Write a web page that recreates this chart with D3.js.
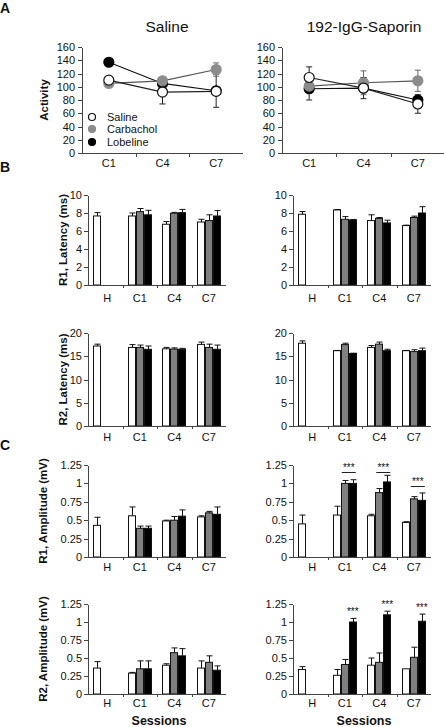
<!DOCTYPE html>
<html><head><meta charset="utf-8">
<script src="https://cdn.jsdelivr.net/npm/d3@7"></script>
<style>
body{margin:0;background:#fff}
svg{display:block}
text{font-family:"Liberation Sans",Arial,sans-serif;fill:#111}
</style>
</head><body>
<svg id="chart" width="444" height="727"></svg>
<script>
// ---------- DATA ----------
const groups = ["Saline", "Carbachol", "Lobeline"];
const sessionsA = ["C1", "C4", "C7"];
const sessionsB = ["H", "C1", "C4", "C7"];
const activityTicks = [0, 20, 40, 60, 80, 100, 120, 140, 160];
const latR1Ticks = [0, 2, 4, 6, 8, 10];
const latR2Ticks = [0, 5, 10, 15, 20];
const ampTicks = [0, 0.25, 0.5, 0.75, 1, 1.25];

// Panel A: activity (rows = Saline, Carbachol, Lobeline; cols = C1, C4, C7)
const actSalMean = [[110, 92, 93], [105, 109, 126], [137, 105, 94]];
const actSalErr  = [[5, 18, 4], [4, 4, 10], [3, 4, 25]];
const actSapMean = [[114, 98, 74], [101, 106, 109], [97, 98, 80]];
const actSapErr  = [[16, 4, 14], [4, 18, 16], [17, 16, 5]];

// Panel B: R1 latency (ms) (cols = H, C1, C4, C7)
const r1LatSalMean = [[7.67, 7.67, 6.75, 7.0], [null, 8.15, 7.97, 7.16], [null, 7.8, 8.04, 7.67]];
const r1LatSalErr  = [[0.37, 0.33, 0.3, 0.3], [null, 0.35, 0.1, 0.64], [null, 0.5, 0.36, 0.6]];
const r1LatSapMean = [[7.86, 8.34, 7.16, 6.6], [null, 7.3, 7.4, 7.5], [null, 7.23, 6.9, 8.0]];
const r1LatSapErr  = [[0.3, 0.05, 0.64, 0.05], [null, 0.3, 0.1, 0.15], [null, 0.05, 0.3, 0.7]];
// R2 latency (ms)
const r2LatSalMean = [[17.2, 16.9, 16.6, 17.55], [null, 16.9, 16.55, 16.9], [null, 16.5, 16.5, 16.5]];
const r2LatSalErr  = [[0.4, 0.6, 0.3, 0.5], [null, 0.5, 0.25, 0.7], [null, 0.7, 0.2, 0.9]];
const r2LatSapMean = [[17.8, 16.2, 16.9, 16.2], [null, 17.5, 17.6, 16.0], [null, 15.6, 16.2, 16.2]];
const r2LatSapErr  = [[0.5, 0.05, 0.4, 0.05], [null, 0.3, 0.45, 0.4], [null, 0.05, 0.3, 0.55]];

// Panel C: R1 amplitude (mV)
const r1AmpSalMean = [[0.43, 0.56, 0.49, 0.545], [null, 0.39, 0.5, 0.6], [null, 0.39, 0.555, 0.58]];
const r1AmpSalErr  = [[0.11, 0.12, 0.01, 0.015], [null, 0.03, 0.05, 0.02], [null, 0.03, 0.085, 0.1]];
const r1AmpSapMean = [[0.45, 0.57, 0.56, 0.47], [null, 1.0, 0.875, 0.79], [null, 1.0, 1.02, 0.77]];
const r1AmpSapErr  = [[0.12, 0.12, 0.02, 0.01], [null, 0.04, 0.055, 0.03], [null, 0.05, 0.09, 0.1]];
// R2 amplitude (mV)
const r2AmpSalMean = [[0.36, 0.29, 0.4, 0.36], [null, 0.35, 0.574, 0.44], [null, 0.35, 0.53, 0.33]];
const r2AmpSalErr  = [[0.09, 0.01, 0.02, 0.1], [null, 0.11, 0.066, 0.09], [null, 0.11, 0.1, 0.06]];
const r2AmpSapMean = [[0.34, 0.26, 0.4, 0.35], [null, 0.41, 0.44, 0.51], [null, 1.0, 1.1, 1.01]];
const r2AmpSapErr  = [[0.04, 0.08, 0.1, 0.0], [null, 0.07, 0.13, 0.14], [null, 0.05, 0.05, 0.1]];

// significance annotations ("***")
const sigR1SapSessions = ["C1", "C4", "C7"];
const sigR1SapLevels = [1.155, 1.155, 0.965];   // bracket level (mV)
const sigR2SapSessions = ["C1", "C4", "C7"];

// ---------- STYLE ----------
const fills = ["#ffffff", "#808080", "#000000"];
const lineCols = ["#222", "#555", "#111"];
const FONT = "'Liberation Sans', Arial, sans-serif";

const svg = d3.select("#chart");

function styleAxis(sel) {
  sel.selectAll("path,line").attr("stroke", "#444").attr("stroke-width", 1).attr("shape-rendering", "crispEdges");
  sel.selectAll("text").attr("font-size", 11).attr("fill", "#111").attr("font-family", FONT);
}

function yTitle(text, x, yc) {
  svg.append("text").attr("transform", `translate(${x},${yc}) rotate(-90)`)
    .attr("text-anchor", "middle").attr("font-size", 11.5).attr("font-weight", "bold")
    .text(text);
}

function letter(t, y) {
  svg.append("text").attr("x", 0).attr("y", y).attr("font-size", 14).attr("font-weight", "bold").text(t);
}

// ---------- PANEL A ----------
function linePanel(o) {
  const g = svg.append("g");
  const x = d3.scaleBand().domain(sessionsA).range([o.x0, o.x1]);
  const y = d3.scaleLinear().domain([0, 160]).range([o.yb, o.yt]);
  const ya = g.append("g").attr("transform", `translate(${o.x0},0)`)
    .call(d3.axisLeft(y).tickValues(activityTicks).tickSize(4).tickSizeOuter(0).tickPadding(3));
  styleAxis(ya);
  // x axis
  g.append("line").attr("x1", o.x0).attr("x2", o.x1).attr("y1", o.yb + 0.5).attr("y2", o.yb + 0.5)
    .attr("stroke", "#444");
  g.selectAll(".xt").data(sessionsA.slice(1)).enter().append("line")
    .attr("x1", d => Math.round(x(d)) + 0.5).attr("x2", d => Math.round(x(d)) + 0.5)
    .attr("y1", o.yb).attr("y2", o.yb + 4).attr("stroke", "#444");
  g.selectAll(".xl").data(sessionsA).enter().append("text")
    .attr("x", d => x(d) + x.bandwidth() / 2).attr("y", o.labY)
    .attr("text-anchor", "middle").attr("font-size", 11).text(d => d);
  const cx = d => x(d) + x.bandwidth() / 2;
  // draw order: lobeline lines/markers first? draw lines, errors then markers
  [2, 1, 0].forEach(gi => {
    const pts = sessionsA.map((s, i) => ({s, v: o.mean[gi][i], e: o.err[gi][i]}));
    g.append("path").datum(pts)
      .attr("d", d3.line().x(d => cx(d.s)).y(d => y(d.v)))
      .attr("fill", "none").attr("stroke", lineCols[gi]).attr("stroke-width", 1.2);
  });
  [2, 1, 0].forEach(gi => {
    const pts = sessionsA.map((s, i) => ({s, v: o.mean[gi][i], e: o.err[gi][i]}));
    const eg = g.append("g").attr("stroke", gi === 1 ? "#666" : "#222").attr("stroke-width", 1);
    pts.forEach(p => {
      eg.append("line").attr("x1", cx(p.s)).attr("x2", cx(p.s)).attr("y1", y(p.v - p.e)).attr("y2", y(p.v + p.e));
      [p.v - p.e, p.v + p.e].forEach(v => eg.append("line")
        .attr("x1", cx(p.s) - 3).attr("x2", cx(p.s) + 3).attr("y1", y(v)).attr("y2", y(v)));
    });
  });
  [2, 1, 0].forEach(gi => {
    const pts = sessionsA.map((s, i) => ({s, v: o.mean[gi][i]}));
    g.selectAll(null).data(pts).enter().append("circle")
      .attr("cx", d => cx(d.s)).attr("cy", d => y(d.v)).attr("r", 5)
      .attr("fill", gi === 1 ? "#8c8c8c" : fills[gi])
      .attr("stroke", gi === 0 ? "#111" : (gi === 1 ? "#8c8c8c" : "#000")).attr("stroke-width", 1.2);
  });
  svg.append("text").attr("x", o.titleX).attr("y", 32).attr("text-anchor", "middle")
    .attr("font-size", 15.5).text(o.title);
}

linePanel({x0: 82, x1: 243, yt: 47, yb: 153, labY: 167, mean: actSalMean, err: actSalErr, title: "Saline", titleX: 167});
linePanel({x0: 282, x1: 445, yt: 47, yb: 153, labY: 167, mean: actSapMean, err: actSapErr, title: "192-IgG-Saporin", titleX: 364});
yTitle("Activity", 48, 100);

// legend
const legY = [117, 129, 142];
groups.forEach((gname, gi) => {
  svg.append("circle").attr("cx", 92).attr("cy", legY[gi]).attr("r", 3.5)
    .attr("fill", gi === 1 ? "#8c8c8c" : fills[gi])
    .attr("stroke", gi === 0 ? "#111" : (gi === 1 ? "#8c8c8c" : "#000")).attr("stroke-width", 1.2);
  svg.append("text").attr("x", 107).attr("y", legY[gi] + 4).attr("font-size", 11).attr("fill", "#222").text(gname);
});

// ---------- BAR PANELS ----------
function barPanel(o) {
  const g = svg.append("g");
  const x = d3.scaleBand().domain(sessionsB).range([o.x0, o.x1]);
  const bw = x.bandwidth();
  const xs = d3.scaleBand().domain(groups).range([5.2, bw - 5.2]);
  const y = d3.scaleLinear().domain([0, o.max]).range([o.yb, o.yt]);
  const ya = g.append("g").attr("transform", `translate(${o.x0},0)`)
    .call(d3.axisLeft(y).tickValues(o.ticks).tickFormat(d3.format("")).tickSize(4).tickSizeOuter(0).tickPadding(2));
  styleAxis(ya);
  // bars
  groups.forEach((gn, gi) => {
    const pts = sessionsB.map((s, i) => ({s, v: o.mean[gi][i], e: o.err[gi][i]})).filter(d => d.v != null);
    g.selectAll(null).data(pts).enter().append("rect")
      .attr("x", d => Math.round(x(d.s) + xs(gn)) + 0.5)
      .attr("y", d => y(d.v))
      .attr("width", Math.round(xs.bandwidth()) - 1)
      .attr("height", d => o.yb - y(d.v))
      .attr("fill", fills[gi]).attr("stroke", "#111").attr("stroke-width", 1);
    pts.forEach(p => {
      if (!p.e) return;
      const cx = Math.round(x(p.s) + xs(gn) + xs.bandwidth() / 2) + 0.5;
      g.append("line").attr("x1", cx).attr("x2", cx).attr("y1", y(p.v)).attr("y2", y(p.v + p.e))
        .attr("stroke", "#111");
      g.append("line").attr("x1", cx - 3).attr("x2", cx + 3).attr("y1", y(p.v + p.e)).attr("y2", y(p.v + p.e))
        .attr("stroke", "#111");
    });
  });
  // x axis
  g.append("line").attr("x1", o.x0).attr("x2", o.x1).attr("y1", o.yb + 0.5).attr("y2", o.yb + 0.5).attr("stroke", "#444");
  g.selectAll(".xt").data(sessionsB.slice(1)).enter().append("line")
    .attr("x1", d => Math.round(x(d)) + 0.5).attr("x2", d => Math.round(x(d)) + 0.5)
    .attr("y1", o.yb).attr("y2", o.yb + 3).attr("stroke", "#444");
  g.selectAll(".xl").data(sessionsB).enter().append("text")
    .attr("x", d => x(d) + bw / 2 + (d === "H" ? 2 : 0)).attr("y", o.labY)
    .attr("text-anchor", "middle").attr("font-size", 11).text(d => d);
  if (o.ylab) yTitle(o.ylab, o.ylabX, (o.yt + o.yb) / 2);
  if (o.sessLab) svg.append("text").attr("x", (o.x0 + o.x1) / 2 + 2).attr("y", o.sessY)
    .attr("text-anchor", "middle").attr("font-size", 12.5).attr("font-weight", "bold").text("Sessions");
  // significance with bracket line
  if (o.sigBracket) {
    o.sigBracket.sessions.forEach((s, i) => {
      const xl = x(s) + xs("Carbachol") + 1, xr = x(s) + xs("Lobeline") + xs.bandwidth() - 1;
      const ly = y(o.sigBracket.levels[i]);
      g.append("line").attr("x1", xl).attr("x2", xr).attr("y1", Math.round(ly) + 0.5).attr("y2", Math.round(ly) + 0.5)
        .attr("stroke", "#222");
      g.append("text").attr("x", (xl + xr) / 2).attr("y", ly - 1).attr("text-anchor", "middle")
        .attr("font-size", 10).text("***");
    });
  }
  if (o.sigTop) {
    o.sigTop.forEach(s => {
      const i = sessionsB.indexOf(s);
      const top = o.mean[2][i] + o.err[2][i];
      const cx = x(s) + xs("Lobeline") + xs.bandwidth() / 2;
      g.append("text").attr("x", cx).attr("y", y(top) - 3).attr("text-anchor", "middle")
        .attr("font-size", 10).text("***");
    });
  }
}

const L = [88, 226], R = [293, 431];
letter("A", 13);
letter("B", 172);
letter("C", 450);

barPanel({x0: L[0], x1: L[1], yt: 195, yb: 285, max: 10, ticks: latR1Ticks, mean: r1LatSalMean, err: r1LatSalErr, labY: 302, ylab: "R1, Latency (ms)", ylabX: 67});
barPanel({x0: R[0], x1: R[1], yt: 195, yb: 285, max: 10, ticks: latR1Ticks, mean: r1LatSapMean, err: r1LatSapErr, labY: 302});
barPanel({x0: L[0], x1: L[1], yt: 333, yb: 426, max: 20, ticks: latR2Ticks, mean: r2LatSalMean, err: r2LatSalErr, labY: 441, ylab: "R2, Latency (ms)", ylabX: 67});
barPanel({x0: R[0], x1: R[1], yt: 333, yb: 426, max: 20, ticks: latR2Ticks, mean: r2LatSapMean, err: r2LatSapErr, labY: 441});
barPanel({x0: L[0], x1: L[1], yt: 465, yb: 557, max: 1.25, ticks: ampTicks, mean: r1AmpSalMean, err: r1AmpSalErr, labY: 571, ylab: "R1, Amplitude (mV)", ylabX: 47});
barPanel({x0: R[0], x1: R[1], yt: 465, yb: 557, max: 1.25, ticks: ampTicks, mean: r1AmpSapMean, err: r1AmpSapErr, labY: 571,
  sigBracket: {sessions: sigR1SapSessions, levels: sigR1SapLevels}});
barPanel({x0: L[0], x1: L[1], yt: 604, yb: 694, max: 1.25, ticks: ampTicks, mean: r2AmpSalMean, err: r2AmpSalErr, labY: 707, ylab: "R2, Amplitude (mV)", ylabX: 47, sessLab: true, sessY: 725});
barPanel({x0: R[0], x1: R[1], yt: 604, yb: 694, max: 1.25, ticks: ampTicks, mean: r2AmpSapMean, err: r2AmpSapErr, labY: 707, sessLab: true, sessY: 725,
  sigTop: sigR2SapSessions});
</script>
</body></html>
